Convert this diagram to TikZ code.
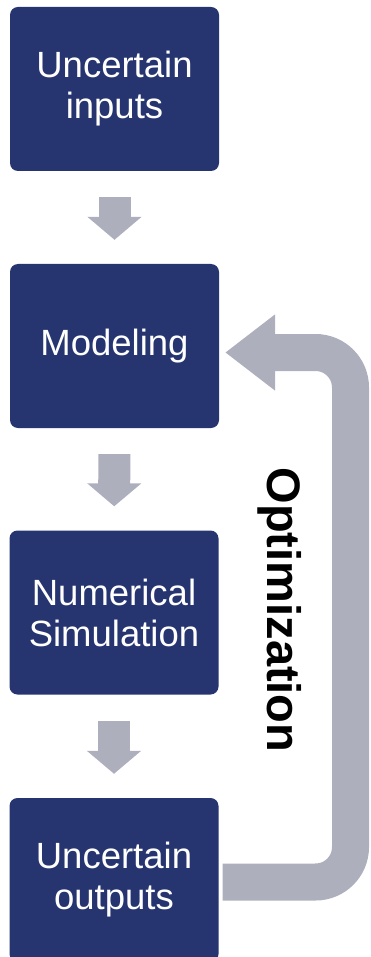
\documentclass[tikz,border=0pt]{standalone}
\usepackage{fontspec}
\setmainfont{Liberation Sans}
\usetikzlibrary{arrows.meta}
\definecolor{mynavy}{RGB}{38,53,112}
\definecolor{mygray}{RGB}{173,175,189}
\tikzset{
  block/.style={fill=mynavy, text=white, rounded corners=8pt, minimum width=209pt,
    minimum height=164pt, inner sep=0pt, align=center, font=\fontsize{36.5}{41}\selectfont},
  flow/.style={draw=mygray, line width=32pt, -{Triangle[length=23pt,width=53pt]},
    shorten <=26pt, shorten >=24pt},
  backarrow/.style={draw=mygray, line width=37pt, rounded corners=35pt,
    -{Triangle[length=50pt,width=73pt]}, shorten >=6pt}
}
\begin{document}
\begin{tikzpicture}[x=1pt,y=-1pt]
\useasboundingbox (0,0) rectangle (370,957);
\clip (0,0) rectangle (370,957);

\node[block] (in)  at (114.5,89)  {Uncertain\\inputs};
\node[block] (mod) at (114.5,346) {Modeling};
\node[block] (num) at (114,612.5) {Numerical\\Simulation};
\node[block] (out) at (114,880)   {Uncertain\\outputs};

\draw[flow] (in) -- (mod);
\draw[flow] (mod) -- (num);
\draw[flow] (num) -- (out);

%\coordinate (rt) at (350,350);
\coordinate (rt) at (350.5,352.5);
\draw[backarrow] ([xshift=4pt,yshift=-2pt]out.east) -| (rt) -- (rt -| mod.east);

\node[rotate=-90, font=\fontsize{47}{50}\selectfont\bfseries] (opt) at (280,610) {Optimization};
\end{tikzpicture}
\end{document}
